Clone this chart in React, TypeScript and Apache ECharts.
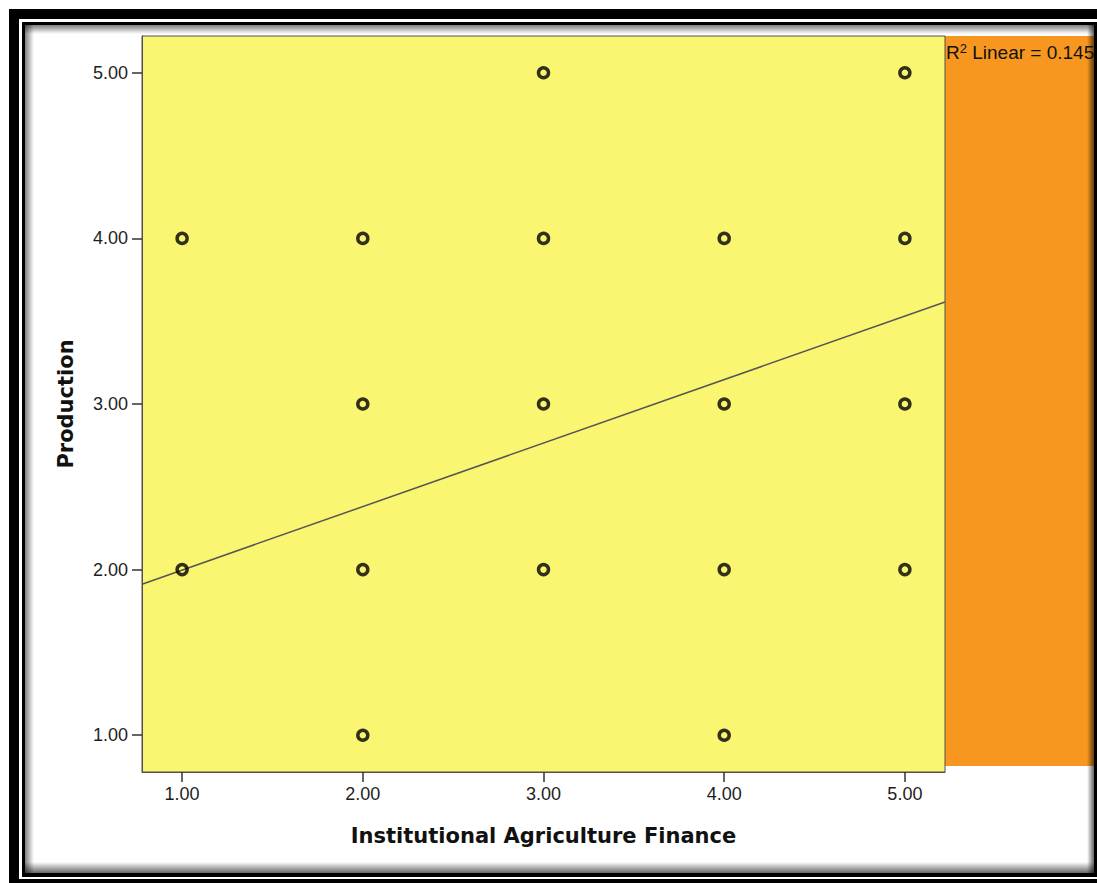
import React, { useEffect, useRef } from "react";
import * as echarts from "echarts";

// ---- data ----
const xValues = [1, 1, 2, 2, 2, 2, 3, 3, 3, 3, 4, 4, 4, 4, 5, 5, 5, 5];
const yValues = [4, 2, 4, 3, 2, 1, 5, 4, 3, 2, 4, 3, 2, 1, 5, 4, 3, 2];
const tickValues = [1, 2, 3, 4, 5];
const fitLineX = [0.778, 5.222];
const fitLineY = [1.912, 3.616];
const axisMin = 0.778;
const axisMax = 5.222;
const xTitle = "Institutional Agriculture Finance";
const yTitle = "Production";
const r2Value = "0.145";

const SANS = "'Liberation Sans', Arial, sans-serif";
const BOLD = "'DejaVu Sans', sans-serif";

export default function App() {
  const ref = useRef<HTMLDivElement>(null);

  useEffect(() => {
    if (!ref.current) return;
    const chart = echarts.init(ref.current, undefined, { renderer: "svg" });

    const scatterData = xValues.map((x, i) => [x, yValues[i]]);
    const lineData = fitLineX.map((x, i) => [x, fitLineY[i]]);

    const shadowTop = new echarts.graphic.LinearGradient(0, 0, 0, 1, [
      { offset: 0, color: "rgba(0,0,0,0.5)" },
      { offset: 1, color: "rgba(0,0,0,0)" },
    ]);
    const shadowLeft = new echarts.graphic.LinearGradient(0, 0, 1, 0, [
      { offset: 0, color: "rgba(0,0,0,0.5)" },
      { offset: 1, color: "rgba(0,0,0,0)" },
    ]);
    const shadowBottom = new echarts.graphic.LinearGradient(0, 0, 0, 1, [
      { offset: 0, color: "rgba(0,0,0,0)" },
      { offset: 1, color: "rgba(0,0,0,0.6)" },
    ]);
    const shadowRight = new echarts.graphic.LinearGradient(0, 0, 1, 0, [
      { offset: 0, color: "rgba(0,0,0,0)" },
      { offset: 1, color: "rgba(0,0,0,0.6)" },
    ]);

    const axisCommon = {
      type: "value" as const,
      min: axisMin,
      max: axisMax,
      splitLine: { show: false },
      axisLine: { show: true, lineStyle: { color: "#505050", width: 1 } },
      axisTick: {
        show: true,
        length: 10,
        customValues: tickValues,
        lineStyle: { color: "#333", width: 1.5 },
      },
      axisLabel: {
        customValues: tickValues,
        formatter: (v: number) => v.toFixed(2),
        fontFamily: SANS,
        fontSize: 18,
        color: "#1e1e1e",
      },
      nameLocation: "middle" as const,
      nameTextStyle: {
        fontFamily: BOLD,
        fontWeight: "bold" as const,
        fontSize: 21,
        color: "#111",
      },
    };

    chart.setOption({
      animation: false,
      backgroundColor: "#fff",
      grid: {
        left: 142,
        top: 36,
        width: 803,
        height: 736,
        show: true,
        backgroundColor: "#FAF672",
        borderColor: "#505050",
        borderWidth: 1,
      },
      xAxis: {
        ...axisCommon,
        name: xTitle,
        nameGap: 53,
        axisLabel: { ...axisCommon.axisLabel, margin: 13 },
      },
      yAxis: {
        ...axisCommon,
        name: yTitle,
        nameGap: 66,
        axisLabel: { ...axisCommon.axisLabel, margin: 14 },
      },
      graphic: {
        elements: [
          { type: "rect", z: -10, shape: { x: 9, y: 9, width: 1200, height: 1000 }, style: { fill: "#000" } },
          { type: "rect", z: -10, shape: { x: 19, y: 19, width: 1200, height: 860 }, style: { fill: "#fff" } },
          { type: "rect", z: -10, shape: { x: 22, y: 22, width: 1200, height: 855 }, style: { fill: "#000" } },
          { type: "rect", z: -10, shape: { x: 25, y: 25, width: 1069, height: 848 }, style: { fill: "#fff" } },
          { type: "rect", z: -10, shape: { x: 945, y: 36, width: 149, height: 730 }, style: { fill: "#F7971F" } },
          { type: "rect", z: -10, shape: { x: 25, y: 25, width: 1069, height: 9 }, style: { fill: shadowTop } },
          { type: "rect", z: -10, shape: { x: 25, y: 25, width: 9, height: 848 }, style: { fill: shadowLeft } },
          { type: "rect", z: -10, shape: { x: 25, y: 862, width: 1069, height: 11 }, style: { fill: shadowBottom } },
          { type: "rect", z: -10, shape: { x: 1087, y: 25, width: 7, height: 848 }, style: { fill: shadowRight } },
          {
            type: "text",
            z: 10,
            x: 946,
            y: 52,
            style: {
              text: "{a|R}{s|2}{a| Linear = " + r2Value + "}",
              verticalAlign: "middle",
              rich: {
                a: { fontSize: 19, lineHeight: 20, fontFamily: SANS, fill: "#111" },
                s: { fontSize: 13, lineHeight: 8, fontFamily: SANS, fill: "#111", verticalAlign: "top" },
              },
            },
          },
        ],
      },
      series: [
        {
          type: "line",
          data: lineData,
          showSymbol: false,
          silent: true,
          z: 2,
          lineStyle: { color: "#555", width: 1.5 },
        },
        {
          type: "scatter",
          data: scatterData,
          symbol: "circle",
          symbolSize: 10,
          z: 3,
          itemStyle: { color: "rgba(0,0,0,0)", borderColor: "#000", borderWidth: 3.5 },
        },
      ],
    });

    return () => chart.dispose();
  }, []);

  return (
    <div
      ref={ref}
      style={{ position: "fixed", left: 0, top: 0, width: 1097, height: 883 }}
    />
  );
}
